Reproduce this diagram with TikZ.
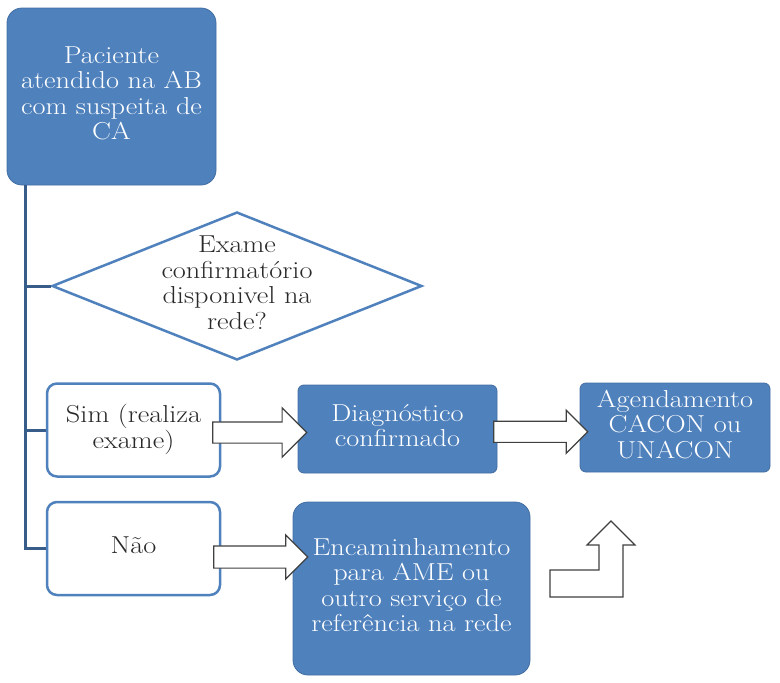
\documentclass[tikz,border=0pt]{standalone}
\usepackage{graphicx}
\usetikzlibrary{shapes,arrows,positioning,calc}

\definecolor{boxblue}{RGB}{79,129,189}
\definecolor{lineblue}{RGB}{56,93,138}
\definecolor{textgray}{RGB}{40,40,40}

% widened text lines, as in the original figure
\newcommand{\widetext}[1]{\scalebox{1.155}[1]{\begin{tabular}{@{}c@{}}#1\end{tabular}}}

\begin{document}
\begin{tikzpicture}[x=1pt,y=-1pt,>=stealth,font=\fontsize{24.5}{25.5}\selectfont]

    % Define node styles
    \tikzstyle{block} = [draw=boxblue!85!black, line width=0.8pt, fill=boxblue, text=white, rectangle, align=center, inner sep=0pt]
    \tikzstyle{choice} = [draw=boxblue, line width=2.5pt, fill=white, text=textgray, rectangle, rounded corners=10pt, align=center, inner sep=0pt, minimum width=173pt, minimum height=93pt]
    \tikzstyle{decision} = [draw=boxblue, line width=2.5pt, fill=white, diamond, inner sep=0pt, minimum width=370pt, minimum height=148pt]
    \tikzstyle{fatarrow} = [single arrow, draw=black!75, line width=1.2pt, fill=white, inner xsep=0pt, inner ysep=10pt, minimum height=94pt, single arrow head extend=11pt, single arrow tip angle=90]
    \tikzstyle{line} = [draw=lineblue, line width=3pt]

    \useasboundingbox (0,0) rectangle (780,683);

    % Draw nodes
    \node [block, rounded corners=15pt, minimum width=209pt, minimum height=177pt] (patient) at (111.5,96.5) {\widetext{Paciente\\atendido na AB\\com suspeita de\\CA}};
    \node [decision, label={[text=textgray]center:\widetext{Exame\\confirmatório\\disponivel na\\rede?}}] (exam) at (237,286) {};
    \node [choice] (yes) at (133.5,430) {\widetext{Sim (realiza\\exame)}};
    \node [choice] (no) at (133.5,548.5) {\widetext{Não}};
    \node [block, rounded corners=6pt, minimum width=199pt, minimum height=88pt] (diag) at (397.5,429) {\widetext{Diagnóstico\\confirmado}};
    \node [block, rounded corners=6pt, minimum width=190pt, minimum height=89pt] (sched) at (675,427.5) {\widetext{Agendamento\\CACON ou\\UNACON}};
    \node [block, rounded corners=15pt, minimum width=237pt, minimum height=173pt] (refer) at (411.5,588.5) {\widetext{Encaminhamento\\para AME ou\\outro serviço de\\referência na rede}};

    % Draw lines
    \coordinate (trunk) at ([xshift=19pt]patient.south west);
    \draw [line] (trunk) |- (no.west);
    \draw [line] (trunk |- exam.west) -- (exam.west);
    \draw [line] (trunk |- yes.west) -- (yes.west);

    % Draw arrows
    \node [fatarrow, single arrow head extend=14pt] (a1) at ($(yes.east)!0.5!(diag.west)+(-5,3)$) {};
    \node [fatarrow] (a2) at ($(diag.east)!0.5!(sched.west)+(-3,3.5)$) {};
    \node [fatarrow, inner ysep=10.5pt] (a3) at ($(no.east)+(34,8.5)$) {};
    \draw [draw=black!75, line width=1.2pt, fill=white]
        (550,570) -- (599,570) -- (599,545) -- (587,545) -- (611,521)
        -- (635,545) -- (623,545) -- (623,597) -- (550,597) -- cycle;

\end{tikzpicture}
\end{document}
